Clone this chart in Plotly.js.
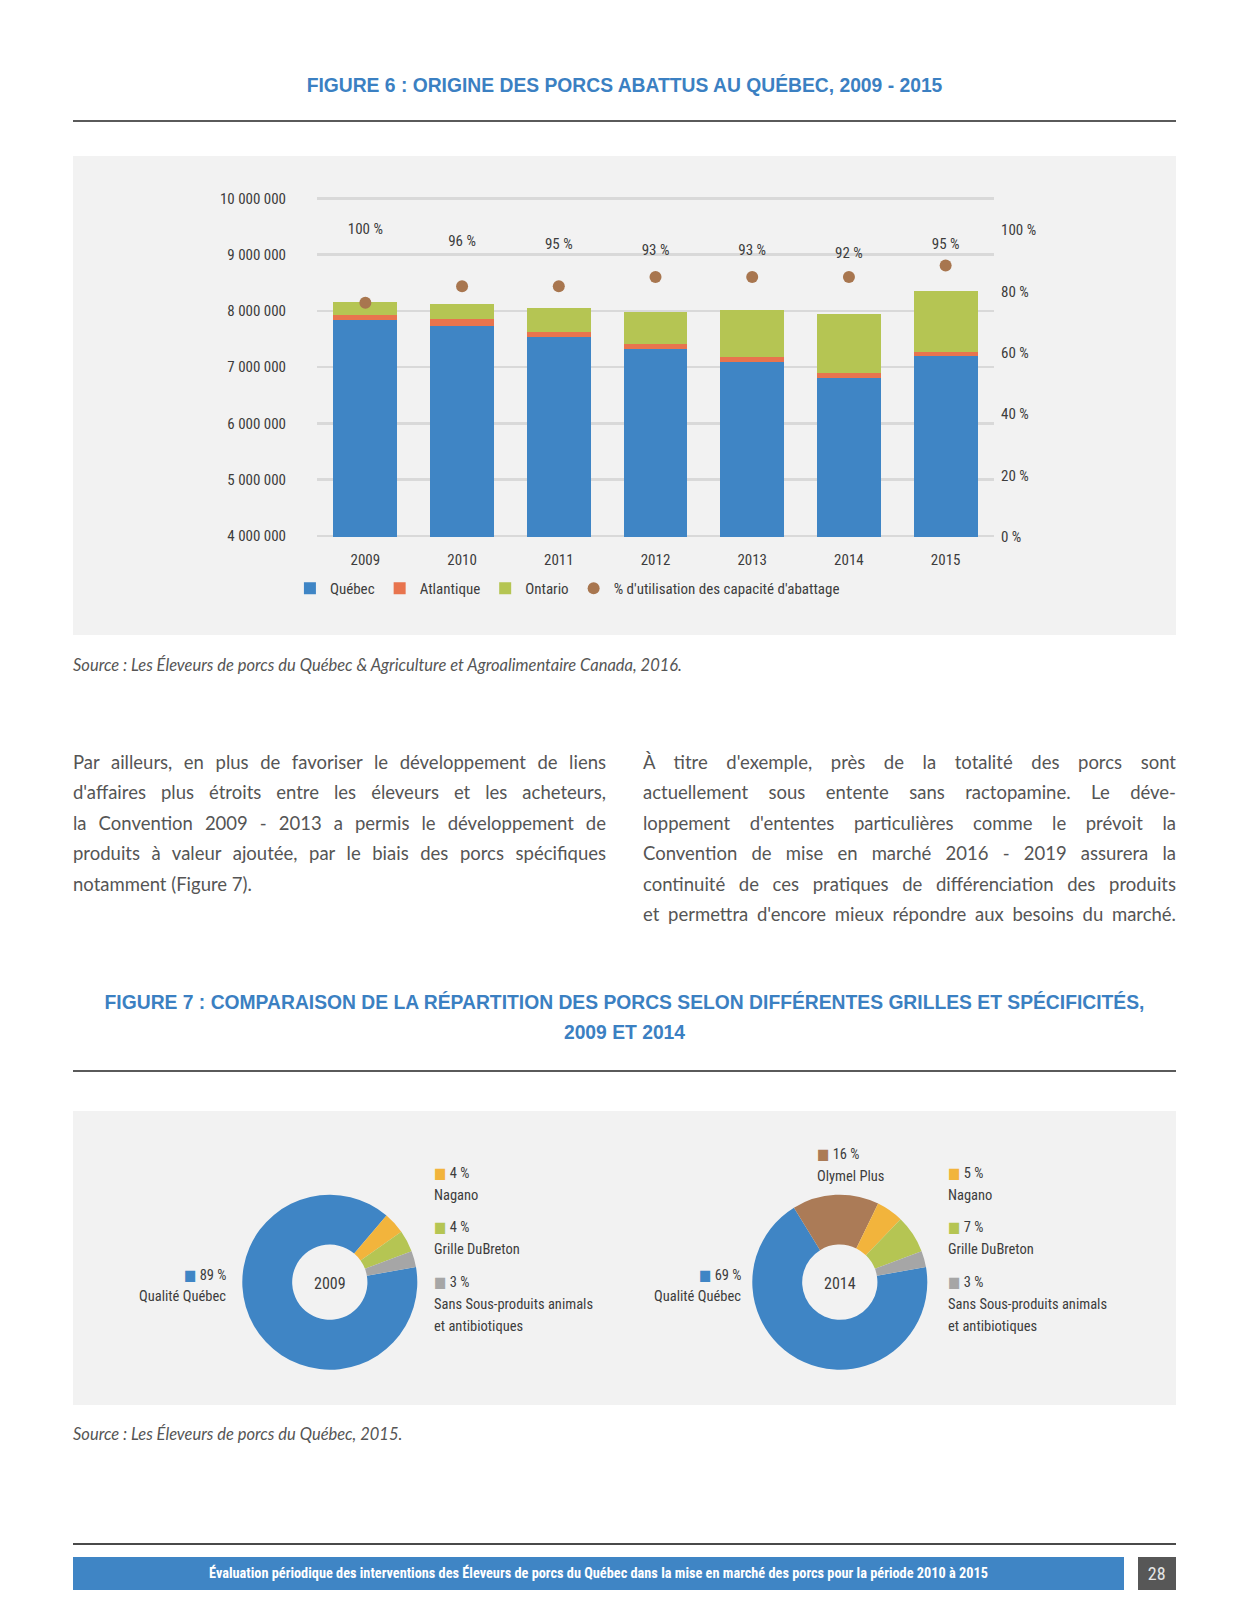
<!DOCTYPE html>
<html>
<head>
<meta charset="utf-8">
<script src="https://cdn.plot.ly/plotly-3.0.1.min.js"></script>
<style>
  body { margin: 0; background: #ffffff; }
  #page { position: relative; width: 1250px; height: 1618px; overflow: hidden; background: #ffffff; }
  .ftitle { position: absolute; left: 73px; width: 1103px; text-align: center; color: #3b80c2;
            font-family: "Liberation Sans", Arial, sans-serif; font-weight: bold; font-size: 19.3px; line-height: 30px; }
  .rule { position: absolute; left: 73px; width: 1103px; height: 2px; background: #5a5a5a; }
  .src { position: absolute; left: 73px; font-family: Lato, "Open Sans", sans-serif; font-style: italic;
         font-size: 16.5px; line-height: 20px; color: #555555; white-space: nowrap; }
  .col { position: absolute; top: 746.5px; width: 533px; font-family: Lato, "Open Sans", sans-serif;
         font-size: 18.5px; line-height: 30.5px; color: #555555; }
  .col div { white-space: nowrap; text-align: justify; text-align-last: justify; }
  .col div.last { text-align-last: left; }
  #fig6 { position: absolute; left: 73px; top: 156px; width: 1103px; height: 479px; }
  #fig7 { position: absolute; left: 73px; top: 1111px; width: 1103px; height: 294px; }
  #footbar { position: absolute; left: 73px; top: 1557px; width: 1051px; height: 33px; background: #3f85c5;
             color: #ffffff; text-align: center; line-height: 33px; font-size: 14.3px; font-weight: bold;
             font-family: "Roboto Condensed", "DejaVu Sans Condensed", sans-serif; white-space: nowrap; }
  #pagenum { position: absolute; left: 1137.5px; top: 1557px; width: 38.5px; height: 33px; background: #575757;
             color: #e6e6e6; text-align: center; line-height: 33px; font-size: 18px;
             font-family: "Roboto Condensed", "DejaVu Sans Condensed", sans-serif; }
</style>
</head>
<body>
<div id="page">
  <div class="ftitle" style="top:70.7px;">FIGURE 6 : ORIGINE DES PORCS ABATTUS AU QUÉBEC, 2009 - 2015</div>
  <div class="rule" style="top:120px;"></div>
  <div id="fig6"></div>
  <div class="src" style="top:654.7px;">Source : Les Éleveurs de porcs du Québec &amp; Agriculture et Agroalimentaire Canada, 2016.</div>

  <div class="col" style="left:73px;">
    <div>Par ailleurs, en plus de favoriser le développement de liens</div>
    <div>d'affaires plus étroits entre les éleveurs et les acheteurs,</div>
    <div>la Convention 2009 - 2013 a permis le développement de</div>
    <div>produits à valeur ajoutée, par le biais des porcs spécifiques</div>
    <div class="last">notamment (Figure 7).</div>
  </div>
  <div class="col" style="left:643px;">
    <div>À titre d'exemple, près de la totalité des porcs sont</div>
    <div>actuellement sous entente sans ractopamine. Le déve-</div>
    <div>loppement d'ententes particulières comme le prévoit la</div>
    <div>Convention de mise en marché 2016 - 2019 assurera la</div>
    <div>continuité de ces pratiques de différenciation des produits</div>
    <div>et permettra d'encore mieux répondre aux besoins du marché.</div>
  </div>

  <div class="ftitle" style="top:988.3px;">FIGURE 7 : COMPARAISON DE LA RÉPARTITION DES PORCS SELON DIFFÉRENTES GRILLES ET SPÉCIFICITÉS,<br>2009 ET 2014</div>
  <div class="rule" style="top:1069.5px;"></div>
  <div id="fig7"></div>
  <div class="src" style="top:1423.7px;">Source : Les Éleveurs de porcs du Québec, 2015.</div>

  <div class="rule" style="top:1543px; background:#4a4a4a;"></div>
  <div id="footbar">Évaluation périodique des interventions des Éleveurs de porcs du Québec dans la mise en marché des porcs pour la période 2010 à 2015</div>
  <div id="pagenum">28</div>
</div>

<script>
// ---------- DATA: Figure 6 ----------
const years = ['2009', '2010', '2011', '2012', '2013', '2014', '2015'];
const quebec = [7840000, 7735000, 7530000, 7330000, 7100000, 6810000, 7200000];
const atlantique = [88000, 118000, 100000, 89000, 87000, 78000, 66000];
const ontario = [235000, 267000, 425000, 560000, 825000, 1062000, 1084000];
const utilisation = [100, 96, 95, 93, 93, 92, 95];                   // labels (%)
const utilisationDots = [76.3, 81.7, 81.7, 84.7, 84.7, 84.7, 88.4];  // dot levels as drawn (%)
const pctTicks = [0, 20, 40, 60, 80, 100];
const seriesNames = ['Québec', 'Atlantique', 'Ontario', "% d'utilisation des capacité d'abattage"];

// ---------- DATA: Figure 7 ----------
const donutYears = ['2009', '2014'];
const cats2009 = ['Qualité Québec', 'Nagano', 'Grille DuBreton', 'Sans Sous-produits animals<br>et antibiotiques'];
const vals2009 = [89, 4, 4, 3];
const cats2014 = ['Qualité Québec', 'Olymel Plus', 'Nagano', 'Grille DuBreton', 'Sans Sous-produits animals<br>et antibiotiques'];
const vals2014 = [69, 16, 5, 7, 3];

// ---------- STYLE ----------
const COND = '"Roboto Condensed", "DejaVu Sans Condensed", sans-serif';
const TXT = '#3d3d3d';
const C = {
  blue: '#3f85c5', orange: '#e8744e', green: '#b5c553', dot: '#a8764f',
  brown: '#ab7b57', yellow: '#f2b43c', gray: '#a6a6a6'
};
const catColor = {
  'Qualité Québec': C.blue, 'Nagano': C.yellow, 'Grille DuBreton': C.green,
  'Sans Sous-produits animals<br>et antibiotiques': C.gray, 'Olymel Plus': C.brown
};

// ---------- FIGURE 6 ----------
const fig6Traces = [
  { type: 'bar', name: seriesNames[0], x: years, y: quebec, marker: { color: C.blue }, hoverinfo: 'y+name' },
  { type: 'bar', name: seriesNames[1], x: years, y: atlantique, marker: { color: C.orange }, hoverinfo: 'y+name' },
  { type: 'bar', name: seriesNames[2], x: years, y: ontario, marker: { color: C.green }, hoverinfo: 'y+name' },
  { type: 'scatter', mode: 'markers', name: seriesNames[3], x: years, y: utilisationDots, yaxis: 'y2',
    marker: { color: C.dot, size: 12 }, cliponaxis: false },
  { type: 'scatter', mode: 'text', x: years, y: utilisation, yaxis: 'y2', showlegend: false,
    text: utilisation, texttemplate: '%{text} %', textposition: 'middle center',
    textfont: { family: COND, size: 15, color: TXT }, cliponaxis: false, hoverinfo: 'skip' }
];
const fig6Layout = {
  width: 1103, height: 479,
  margin: { l: 244, r: 182, t: 40, b: 98, pad: 0 },
  paper_bgcolor: '#f2f2f2', plot_bgcolor: 'rgba(0,0,0,0)',
  barmode: 'stack', bargap: 0.34,
  separators: ', ',
  font: { family: COND, size: 15, color: TXT },
  xaxis: { type: 'category', showgrid: false, zeroline: false, showline: false, ticks: '',
           ticklabelstandoff: 12, tickfont: { family: COND, size: 15, color: TXT } },
  yaxis: { range: [3982000, 10041000], dtick: 1000000, tick0: 0, tickformat: ',d',
           showgrid: true, gridcolor: '#d9d9d9', gridwidth: 2.5, zeroline: false, showline: false,
           ticks: '', ticklabelstandoff: 30, tickfont: { family: COND, size: 15, color: TXT } },
  yaxis2: { overlaying: 'y', side: 'right', range: [-0.1, 111.1],
            tickmode: 'array', tickvals: pctTicks, ticktext: pctTicks.map(v => v + ' %'),
            showgrid: false, zeroline: false, showline: false, ticks: '',
            ticklabelstandoff: 6, tickfont: { family: COND, size: 15, color: TXT } },
  legend: { orientation: 'h', x: -0.04, xanchor: 'left', y: -0.151, yanchor: 'middle',
            bgcolor: 'rgba(0,0,0,0)', font: { family: COND, size: 15, color: TXT },
            traceorder: 'normal', itemwidth: 30 },
  showlegend: true
};
Plotly.newPlot('fig6', fig6Traces, fig6Layout, { displayModeBar: false, staticPlot: true });

// ---------- FIGURE 7 ----------
const F7 = { left: 73, top: 1111, w: 1103, h: 294 };
const px = x => (x - F7.left) / F7.w;
const py = y => 1 - (y - F7.top) / F7.h;
const R = 87.5;
const donutGeom = [ { cx: 329.8, cy: 1282.2 }, { cx: 839.8, cy: 1282.2 } ];
// label placement (page pixels) for each category of each donut
const labelPos = [
  [ { x: 228, y: 1275, side: 'right' }, { x: 432, y: 1173.3 }, { x: 432, y: 1227.3 }, { x: 432, y: 1282.7 } ],
  [ { x: 742.5, y: 1275, side: 'right' }, { x: 814.5, y: 1155 }, { x: 945.5, y: 1173.3 }, { x: 945.5, y: 1227.3 }, { x: 945.5, y: 1282.7 } ]
];
const LINE = 21.7;

const donutData = [ { cats: cats2009, vals: vals2009 }, { cats: cats2014, vals: vals2014 } ];
const fig7Traces = donutData.map((d, i) => {
  const g = donutGeom[i];
  return {
    type: 'pie', labels: d.cats, values: d.vals, hole: 0.43, sort: false,
    direction: 'clockwise', rotation: 80, textinfo: 'none', showlegend: false,
    marker: { colors: d.cats.map(c => catColor[c]), line: { width: 0 } },
    domain: { x: [px(g.cx - R), px(g.cx + R)], y: [py(g.cy + R), py(g.cy - R)] },
    title: { text: donutYears[i], position: 'middle center', font: { family: COND, size: 16, color: TXT } },
    hoverinfo: 'label+percent'
  };
});

const annotations = [];
donutData.forEach((d, i) => {
  d.cats.forEach((cat, j) => {
    const p = labelPos[i][j];
    const anchor = p.side === 'right' ? 'right' : 'left';
    annotations.push({
      xref: 'paper', yref: 'paper', x: px(p.x), y: py(p.y), xanchor: anchor, yanchor: 'middle',
      showarrow: false, align: anchor,
      text: '<span style="color:' + catColor[cat] + '">■</span> ' + d.vals[j] + ' %',
      font: { family: COND, size: 14.5, color: TXT }
    });
    cat.split('<br>').forEach((line, k) => {
      annotations.push({
        xref: 'paper', yref: 'paper', x: px(p.x), y: py(p.y + LINE * (k + 1)), xanchor: anchor, yanchor: 'middle',
        showarrow: false, align: anchor, text: line,
        font: { family: COND, size: 14.5, color: TXT }
      });
    });
  });
});

const fig7Layout = {
  width: F7.w, height: F7.h,
  margin: { l: 0, r: 0, t: 0, b: 0, pad: 0 },
  paper_bgcolor: '#f2f2f2', plot_bgcolor: 'rgba(0,0,0,0)',
  font: { family: COND, size: 15, color: TXT },
  annotations: annotations, showlegend: false
};
Plotly.newPlot('fig7', fig7Traces, fig7Layout, { displayModeBar: false, staticPlot: true });
</script>
</body>
</html>
